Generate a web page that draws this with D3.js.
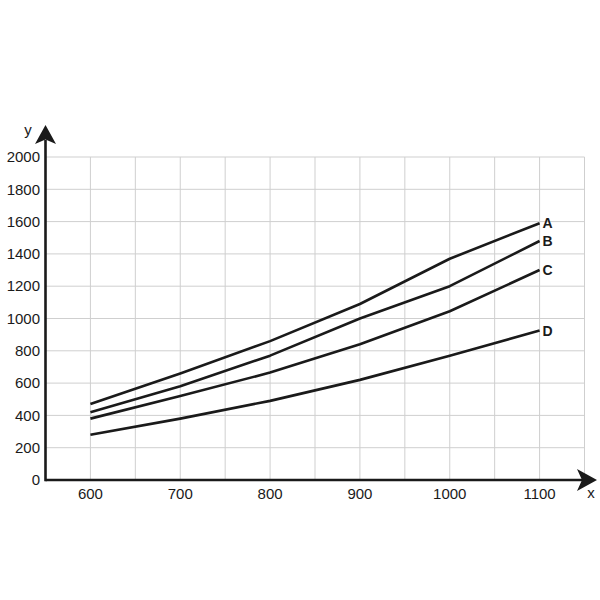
<!DOCTYPE html>
<html>
<head>
<meta charset="utf-8">
<script src="https://cdn.jsdelivr.net/npm/d3@7"></script>
<style>
body { margin: 0; background: #fff; }
svg { display: block; }
text { font-family: "Liberation Sans", Arial, Helvetica, sans-serif; fill: #1a1a1a; }
</style>
</head>
<body>
<svg id="chart" width="600" height="600"></svg>
<script>
const xValues = [600, 700, 800, 900, 1000, 1100];
const seriesA = [470, 660, 860, 1090, 1370, 1590];
const seriesB = [420, 580, 770, 1000, 1200, 1480];
const seriesC = [380, 520, 665, 840, 1045, 1300];
const seriesD = [280, 380, 490, 620, 770, 925];
const seriesNames = ["A", "B", "C", "D"];
const xTickLabels = [600, 700, 800, 900, 1000, 1100];
const yTickLabels = [0, 200, 400, 600, 800, 1000, 1200, 1400, 1600, 1800, 2000];

const series = [seriesA, seriesB, seriesC, seriesD];
const svg = d3.select("#chart");
const x = d3.scaleLinear().domain([550, 1150]).range([45.5, 584.5]);
const y = d3.scaleLinear().domain([0, 2000]).range([480, 157]);

// grid
const grid = svg.append("g").attr("stroke", "#cfcfcf").attr("stroke-width", 1);
grid.selectAll("line.v").data(d3.range(600, 1151, 50)).join("line")
  .attr("x1", d => x(d)).attr("x2", d => x(d))
  .attr("y1", y(0)).attr("y2", y(2000));
grid.selectAll("line.h").data(yTickLabels.filter(d => d > 0)).join("line")
  .attr("x1", x(550)).attr("x2", x(1150))
  .attr("y1", d => y(d)).attr("y2", d => y(d));

// axes
const axisG = svg.append("g");
axisG.append("line").attr("x1", x(550)).attr("x2", 582).attr("y1", y(0)).attr("y2", y(0))
  .attr("stroke", "#1a1a1a").attr("stroke-width", 2.6);
axisG.append("line").attr("x1", x(550)).attr("x2", x(550)).attr("y1", y(0) + 1.3).attr("y2", 140)
  .attr("stroke", "#1a1a1a").attr("stroke-width", 2.6);
const ax0 = x(550);
axisG.append("path")
  .attr("d", `M${ax0},125 L${ax0 + 10.5},144 L${ax0},139.5 L${ax0 - 10.5},144 Z`)
  .attr("fill", "#1a1a1a");
const ay0 = y(0);
axisG.append("path")
  .attr("d", `M597,${ay0} L577,${ay0 - 11} L582,${ay0} L577,${ay0 + 11} Z`)
  .attr("fill", "#1a1a1a");

svg.append("text").attr("x", 28).attr("y", 135).attr("text-anchor", "middle")
  .attr("font-size", 15).text("y");
svg.append("text").attr("x", 591).attr("y", 498).attr("text-anchor", "middle")
  .attr("font-size", 15).text("x");

// tick labels
svg.append("g").selectAll("text").data(yTickLabels).join("text")
  .attr("x", 40).attr("y", d => y(d)).attr("dy", "0.35em")
  .attr("text-anchor", "end").attr("font-size", 15).text(d => d);
svg.append("g").selectAll("text").data(xTickLabels).join("text")
  .attr("x", d => x(d)).attr("y", 499)
  .attr("text-anchor", "middle").attr("font-size", 15).text(d => d);

// lines
const line = d3.line().x((d, i) => x(xValues[i])).y(d => y(d));
svg.append("g").selectAll("path").data(series).join("path")
  .attr("d", d => line(d))
  .attr("fill", "none").attr("stroke", "#1a1a1a").attr("stroke-width", 2.6)
  .attr("stroke-linejoin", "round");

svg.append("g").selectAll("text").data(series).join("text")
  .attr("x", x(xValues[xValues.length - 1]) + 3)
  .attr("y", d => y(d[d.length - 1]))
  .attr("dy", "0.35em").attr("font-size", 14).attr("font-weight", "bold")
  .text((d, i) => seriesNames[i]);
</script>
</body>
</html>
